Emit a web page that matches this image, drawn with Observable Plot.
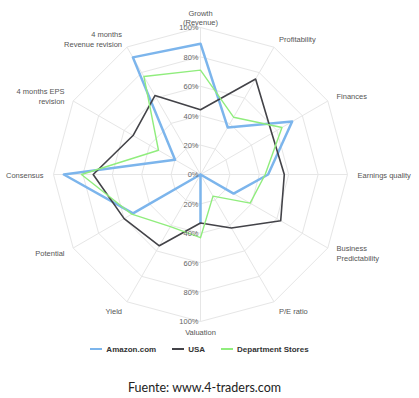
<!DOCTYPE html>
<html>
<head>
<meta charset="utf-8">
<script src="https://cdn.jsdelivr.net/npm/d3@7"></script>
<script src="https://cdn.jsdelivr.net/npm/@observablehq/plot@0.6"></script>
<style>
  body { margin: 0; background: #fff; width: 419px; overflow: hidden; }
  #chart svg { display: block; }
  #legend { margin-top: 5px; height: 18px; line-height: 18px; text-align: center; padding-right: 20px; font: bold 8px "Liberation Sans", Arial, sans-serif; color: #333; white-space: nowrap; }
  #legend .item { display: inline-block; margin: 0 8px; }
  #legend .sw { display: inline-block; width: 12px; height: 2px; vertical-align: middle; margin-right: 4px; position: relative; top: -1px; }
  #caption { margin-top: 17px; height: 16px; line-height: 16px; text-align: center; padding-right: 10px; font: 12.5px Lato, "Open Sans", sans-serif; color: #222; }
</style>
</head>
<body>
<div id="chart"></div>
<div id="legend"></div>
<div id="caption">Fuente: www.4-traders.com</div>
<script>
const axes = ["Growth\n(Revenue)", "Profitability", "Finances", "Earnings quality", "Business\nPredictability", "P/E ratio", "Valuation", "Yield", "Potential", "Consensus", "4 months EPS\nrevision", "4 months\nRevenue revision"];
const seriesNames = ["Amazon.com", "USA", "Department Stores"];
const amazon = [89, 37, 72, 46, 26, 0, 33, 0, 53, 93, 20, 92];
const usa = [44, 75, 56, 57, 63, 42, 33, 56, 60, 73, 53, 62];
const deptStores = [71, 45, 64, 44, 39, 17, 43, 41, 54, 81, 33, 77];
const ticks = [0, 20, 40, 60, 80, 100];
const colors = ["#7cb5ec", "#434348", "#90ed7d"];
const widths = [2.5, 1.6, 1.4];

const n = axes.length;
const ang = i => i * 2 * Math.PI / n;
const X = (i, v) => (v / 100) * Math.sin(ang(i));
const Y = (i, v) => (v / 100) * Math.cos(ang(i));

const seriesValues = [amazon, usa, deptStores];
const rows = seriesValues.map((vals, k) => vals.map((v, i) => ({series: seriesNames[k], i, v})));

const rings = ticks.filter(t => t > 0).flatMap(t => axes.map((a, i) => ({t, i})));
const spokes = axes.map((a, i) => ({i}));
const tickRows = ticks.flatMap(t => t === 0 ? [{t, s: 1}] : [{t, s: 1}, {t, s: -1}]);

const labelR = 106.8;
const labelRows = axes.map((a, i) => ({a, i, s: Math.sin(ang(i))}));
const font = "'Liberation Sans', Arial, sans-serif";

const plot = Plot.plot({
  width: 419,
  height: 340,
  marginLeft: 53,
  marginRight: 72,
  marginTop: 27,
  marginBottom: 19,
  style: {fontFamily: font, background: "#fff"},
  x: {type: "linear", domain: [-1, 1], axis: null},
  y: {type: "linear", domain: [-1, 1], axis: null},
  marks: [
    Plot.line(rings, {x: d => X(d.i, d.t), y: d => Y(d.i, d.t), z: "t", curve: "linear-closed", stroke: "#e6e6e6", strokeWidth: 1}),
    Plot.link(spokes, {x1: 0, y1: 0, x2: d => X(d.i, 100), y2: d => Y(d.i, 100), stroke: "#e6e6e6", strokeWidth: 1}),
    ...rows.map((r, k) => Plot.line(r, {x: d => X(d.i, d.v), y: d => Y(d.i, d.v), curve: "linear-closed", stroke: colors[k], strokeWidth: widths[k], strokeLinejoin: "round"})),
    Plot.text(tickRows, {x: 0, y: d => d.s * d.t / 100, text: d => d.t + "%", textAnchor: "end", dx: -2, dy: 0.5, fontSize: 7.5, fill: "#666"}),
    Plot.text(labelRows.filter(d => d.s > 0.01), {x: d => X(d.i, labelR), y: d => Y(d.i, labelR), text: "a", textAnchor: "start", lineAnchor: "middle", lineHeight: 1.3, fontSize: 7.5, fill: "#555"}),
    Plot.text(labelRows.filter(d => d.s < -0.01), {x: d => X(d.i, labelR), y: d => Y(d.i, labelR), text: "a", textAnchor: "end", lineAnchor: "middle", lineHeight: 1.3, fontSize: 7.5, fill: "#555"}),
    Plot.text(labelRows.filter(d => Math.abs(d.s) <= 0.01), {x: d => X(d.i, labelR), y: d => Y(d.i, labelR), text: "a", textAnchor: "middle", lineAnchor: "middle", lineHeight: 1.3, fontSize: 7.5, fill: "#555"})
  ]
});
document.getElementById("chart").appendChild(plot);

const legend = document.getElementById("legend");
seriesNames.forEach((s, k) => {
  const it = document.createElement("span");
  it.className = "item";
  const sw = document.createElement("span");
  sw.className = "sw";
  sw.style.background = colors[k];
  it.appendChild(sw);
  it.appendChild(document.createTextNode(s));
  legend.appendChild(it);
});
</script>
</body>
</html>
